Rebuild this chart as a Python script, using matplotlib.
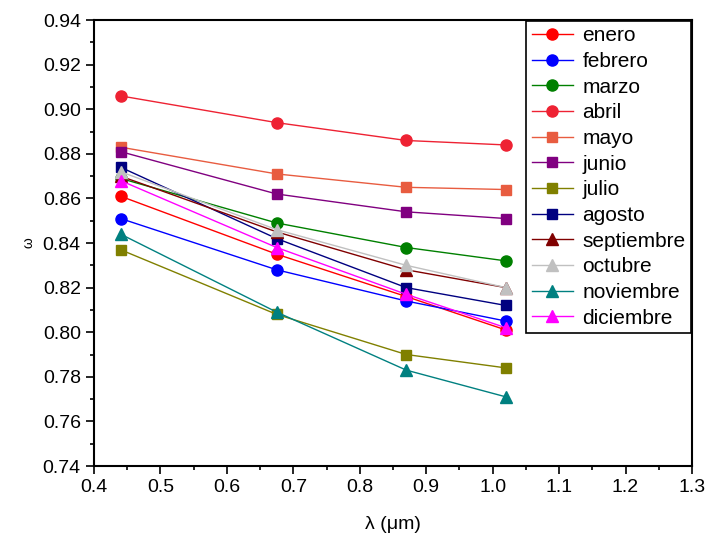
import matplotlib.pyplot as plt
from matplotlib.ticker import MultipleLocator

plt.rcParams['font.family'] = ['Liberation Sans', 'DejaVu Sans']

# wavelengths (um)
wavelength = [0.44, 0.675, 0.87, 1.02]

months = ["enero", "febrero", "marzo", "abril", "mayo", "junio", "julio",
          "agosto", "septiembre", "octubre", "noviembre", "diciembre"]

enero = [0.861, 0.835, 0.816, 0.801]
febrero = [0.851, 0.828, 0.814, 0.805]
marzo = [0.869, 0.849, 0.838, 0.832]
abril = [0.906, 0.894, 0.886, 0.884]
mayo = [0.883, 0.871, 0.865, 0.864]
junio = [0.881, 0.862, 0.854, 0.851]
julio = [0.837, 0.808, 0.790, 0.784]
agosto = [0.874, 0.842, 0.820, 0.812]
septiembre = [0.870, 0.845, 0.828, 0.820]
octubre = [0.872, 0.846, 0.830, 0.820]
noviembre = [0.844, 0.809, 0.783, 0.771]
diciembre = [0.868, 0.838, 0.817, 0.802]

series = [enero, febrero, marzo, abril, mayo, junio, julio,
          agosto, septiembre, octubre, noviembre, diciembre]

colors = ["#ff0000", "#0000ff", "#008000", "#ee2233", "#e85c40", "#800080",
          "#808000", "#000080", "#800000", "#c0c0c0", "#008080", "#ff00ff"]
markers = ["o", "o", "o", "o", "s", "s", "s", "s", "^", "^", "^", "^"]

fig = plt.figure(figsize=(7.09, 5.43), dpi=100)
ax = fig.add_axes([0.1326, 0.1418, 0.976 - 0.1326, 0.963 - 0.1418])

for name, vals, c, m in zip(months, series, colors, markers):
    ms = 8 if m == "o" else (7.5 if m == "s" else 9)
    ax.plot(wavelength, vals, color=c, marker=m, markersize=ms,
            linewidth=1, label=name, markeredgecolor=c)

ax.set_xlim(0.4, 1.3)
ax.set_ylim(0.74, 0.94)
ax.xaxis.set_major_locator(MultipleLocator(0.1))
ax.xaxis.set_minor_locator(MultipleLocator(0.05))
ax.yaxis.set_major_locator(MultipleLocator(0.02))
ax.yaxis.set_minor_locator(MultipleLocator(0.01))
ax.xaxis.set_major_formatter(plt.FuncFormatter(lambda v, p: "%.1f" % v))
ax.yaxis.set_major_formatter(plt.FuncFormatter(lambda v, p: "%.2f" % v))
ax.tick_params(which='major', direction='out', length=6, width=1.2, labelsize=14)
ax.tick_params(which='minor', direction='out', length=3, width=1.2)
for s in ax.spines.values():
    s.set_linewidth(1.5)

ax.set_xlabel("λ (μm)", fontsize=14, labelpad=14)
ax.set_ylabel("ω", fontsize=10, labelpad=5)

leg = ax.legend(loc='upper right', fontsize=15, borderaxespad=0.05,
                fancybox=False, framealpha=1, edgecolor='black',
                handlelength=2.0, labelspacing=0.32, borderpad=0.25,
                handletextpad=0.45)
leg.get_frame().set_linewidth(1.2)

fig.savefig("out.png", dpi=100)
